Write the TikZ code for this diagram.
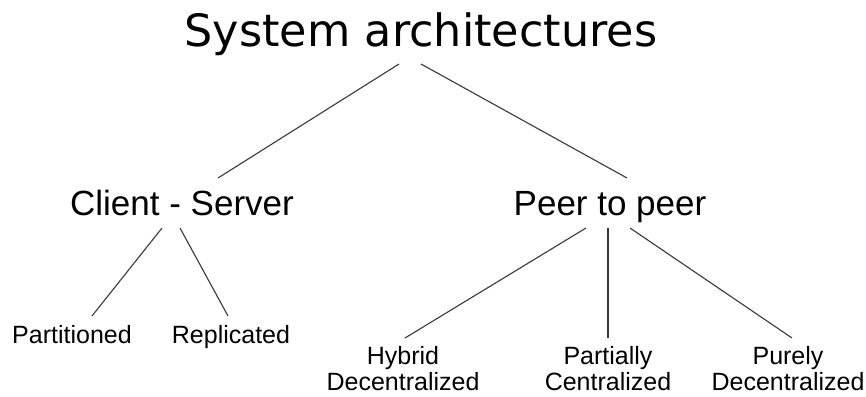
\documentclass[tikz,border=0pt]{standalone}
\usepackage{fontspec}
\setmainfont{Liberation Sans}
\newfontfamily\titlefont{DejaVu Sans}
\usetikzlibrary{calc}
\tikzset{
  lbl/.style={anchor=base, inner sep=0pt, align=center, text=black},
  toplbl/.style={lbl, font=\titlefont\fontsize{44.5}{50}\selectfont},
  midlbl/.style={lbl, font=\fontsize{35}{40}\selectfont},
  leaflbl/.style={lbl, font=\fontsize{25}{26}\selectfont},
  branch/.style={draw=black!78, line width=1.1pt}
}
\begin{document}
\begin{tikzpicture}[x=1pt, y=-1pt]
  \useasboundingbox (0,0) rectangle (866,396);

  % tree levels (two-line leaves are placed by the baseline of their last line)
  \node[toplbl] (title) at (421,47) {System architectures};
  \node[midlbl] (cs) at (182,215) {Client - Server};
  \node[midlbl] (p2p) at (610,215) {Peer to peer};
  \node[leaflbl] (part) at (72,343) {Partitioned};
  \node[leaflbl] (repl) at (231,343) {Replicated};
  \node[leaflbl] (hyb) at (403,390) {Hybrid\\Decentralized};
  \node[leaflbl] (pc) at (608,390) {Partially\\Centralized};
  \node[leaflbl] (pd) at (788,390) {Purely\\Decentralized};

  % branches
  \draw[branch] ($(title.base)+(-22,17)$) -- ($(cs.base)+(36,-37)$);
  \draw[branch] ($(title.base)+(0,17)$) -- ($(p2p.base)+(17,-37)$);
  \draw[branch] ($(cs.base)+(-20,13)$) -- ($(part.base)+(20,-27)$);
  \draw[branch] ($(cs.base)+(-2,13)$) -- ($(repl.base)+(-3,-27)$);
  \draw[branch] ($(p2p.base)+(-24,13)$) -- ($(hyb.base)+(2,-52)$);
  \draw[branch] ($(p2p.base)+(-2,13)$) -- ($(pc.base)+(0,-52)$);
  \draw[branch] ($(p2p.base)+(20,13)$) -- ($(pd.base)+(4,-52)$);
\end{tikzpicture}
\end{document}
